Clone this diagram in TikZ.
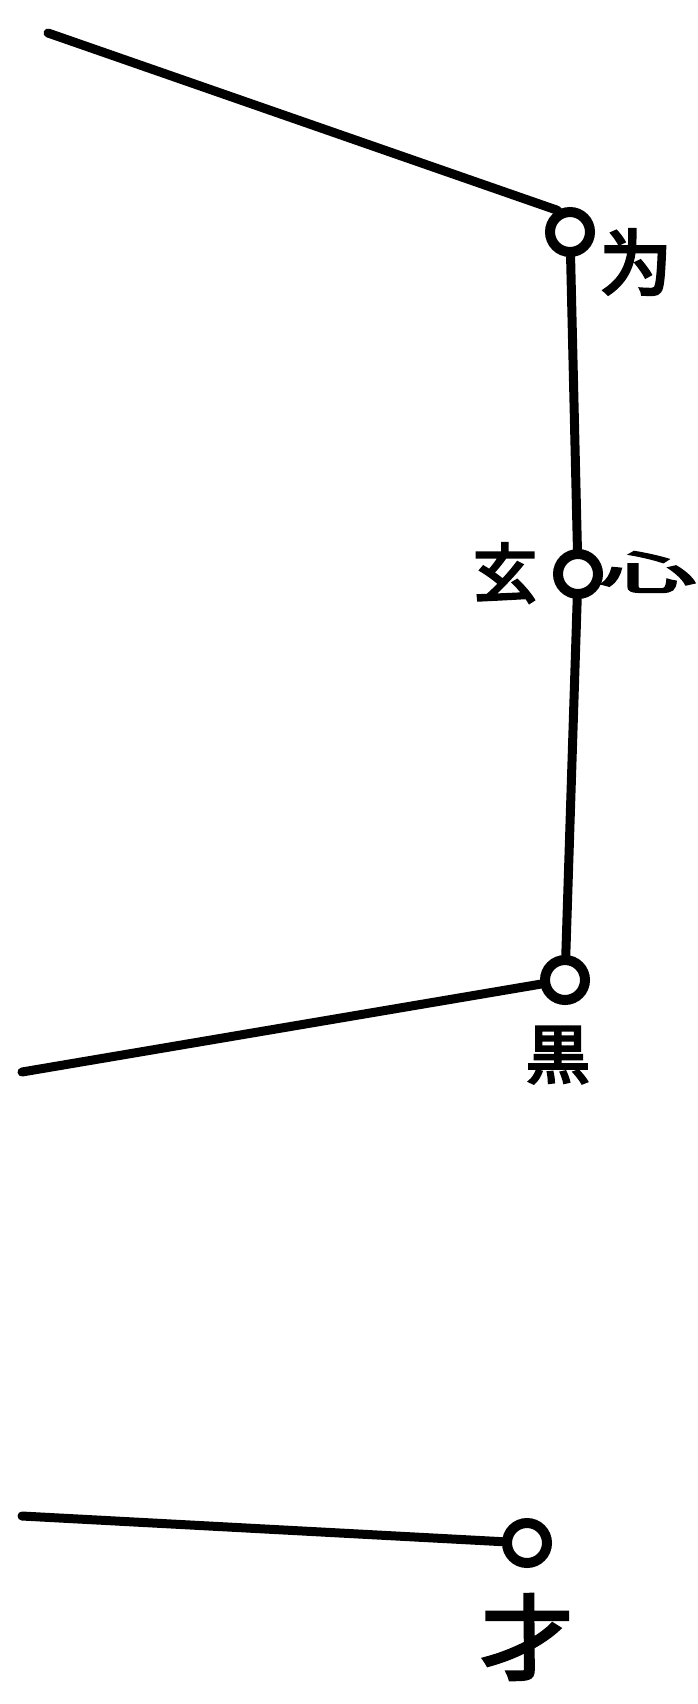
\documentclass[tikz,border=0pt]{standalone}
\usepackage{fontspec}
\newfontfamily\cjk[FakeBold=4]{Noto Sans CJK JP}
\tikzset{
  ring/.style={circle, draw=black, line width=10pt, minimum size=40pt, inner sep=0pt},
  wire/.style={line width=9pt, draw=black, line cap=round},
  glyph/.style={inner sep=0pt, font=\cjk\fontsize{64}{64}\selectfont}
}
\begin{document}
\begin{tikzpicture}[x=1pt, y=-1pt]
  \useasboundingbox (0,0) rectangle (698,1704);
  \fill[white] (0,0) rectangle (698,1704);
  % circles
  \node[ring] (c1) at (570,232) {};
  \node[ring] (c2) at (578,574) {};
  \node[ring] (c3) at (565,980) {};
  \node[ring] (c4) at (527,1543) {};
  % free ends
  \coordinate (tl) at (48,33);
  \coordinate (bl) at (22,1072);
  \coordinate (ll) at (22,1516);
  % connectors
  \draw[wire] (tl) -- (c1.120);
  \draw[wire] (c1) -- (c2);
  \draw[wire] (c2) -- (c3);
  \draw[wire] (c3) -- (bl);
  \draw[wire] (c4) -- (ll);
  % labels
  \node[glyph, font=\cjk\fontsize{72}{72}\selectfont] (t1) at (636,262) {为};
  \node[glyph] (t2) at (505,573) {玄};
  \node[glyph] (t3) at (648,572) {\scalebox{1.5}[0.7]{心}};
  \node[glyph] (t4) at (558,1055) {黒};
  \node[glyph, font=\cjk\fontsize{92}{92}\selectfont] (t5) at (527,1637) {才};
\end{tikzpicture}
\end{document}
